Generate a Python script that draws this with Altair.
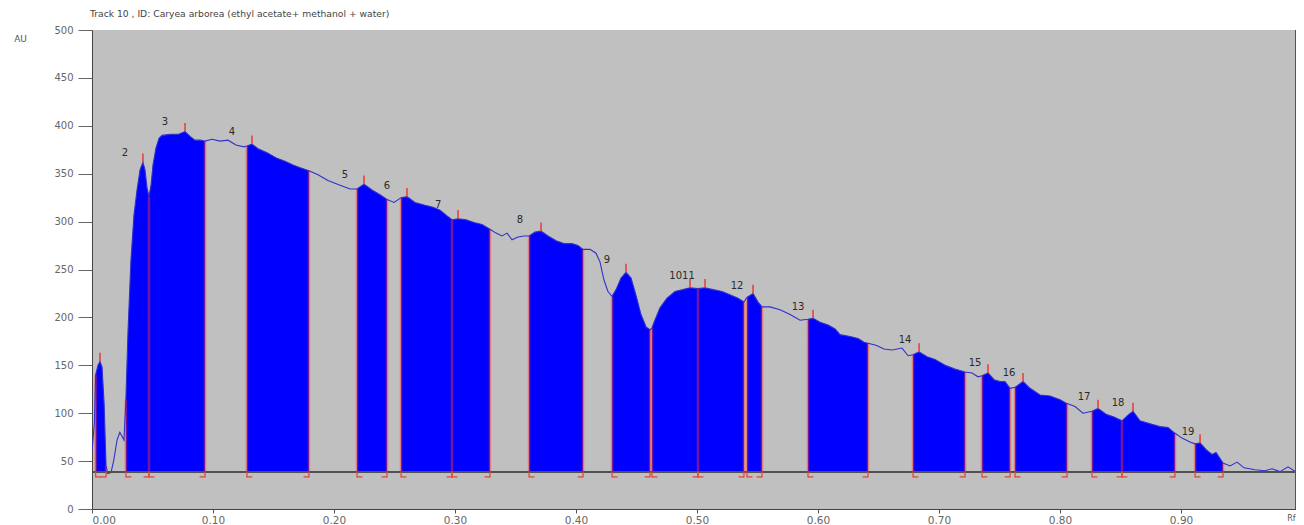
import altair as alt
import pandas as pd

# ---- densitogram curve (Rf, AU) ----
rf = [0.000, 0.002, 0.003, 0.005, 0.0066, 0.0083, 0.0100, 0.0116, 0.013, 0.0157,
      0.018, 0.0207, 0.023, 0.0248, 0.0264, 0.028, 0.0298, 0.0322, 0.0347, 0.0372,
      0.0397, 0.0421, 0.0438, 0.0455, 0.0471, 0.0488, 0.0504, 0.0529, 0.0554, 0.0579,
      0.0645, 0.0711, 0.0769, 0.081, 0.0851, 0.0893, 0.0934, 0.0992, 0.1058, 0.1124,
      0.119, 0.1256, 0.128, 0.1322, 0.1372, 0.1446, 0.1529, 0.1595, 0.1661, 0.1727,
      0.1793, 0.1868, 0.195, 0.205, 0.2132, 0.219, 0.2248, 0.2314, 0.238, 0.2438,
      0.2496, 0.2554, 0.2603, 0.2669, 0.2752, 0.2818, 0.2876, 0.2934, 0.2975, 0.3025,
      0.3091, 0.3157, 0.3223, 0.3289, 0.3339, 0.3388, 0.343, 0.3471, 0.3521, 0.357,
      0.3612, 0.3661, 0.3711, 0.3769, 0.3835, 0.3901, 0.3967, 0.4017, 0.4058, 0.4116,
      0.4165, 0.4198, 0.4231, 0.4264, 0.4298, 0.4331, 0.4372, 0.4413, 0.4455, 0.4496,
      0.4537, 0.4579, 0.4612, 0.4628, 0.4645, 0.4694, 0.4752, 0.4818, 0.4884, 0.4942,
      0.5008, 0.5066, 0.5132, 0.5207, 0.5281, 0.5339, 0.5388, 0.5413, 0.5463, 0.5504,
      0.5537, 0.5603, 0.5686, 0.5769, 0.5851, 0.5917, 0.5959, 0.6017, 0.6083, 0.6141,
      0.6182, 0.6264, 0.6331, 0.638, 0.6413, 0.6479, 0.6545, 0.6612, 0.6694, 0.6744,
      0.6785, 0.6835, 0.6901, 0.6967, 0.705, 0.7132, 0.7215, 0.7273, 0.7322, 0.7355,
      0.7405, 0.7455, 0.7504, 0.7545, 0.7587, 0.7628, 0.7694, 0.7752, 0.7835, 0.7917,
      0.8, 0.8058, 0.8124, 0.819, 0.8264, 0.8314, 0.838, 0.8446, 0.8512, 0.8562,
      0.8603, 0.8661, 0.8744, 0.8826, 0.8893, 0.895, 0.9008, 0.9074, 0.9116, 0.9157,
      0.9207, 0.9256, 0.9289, 0.9347, 0.9405, 0.9463, 0.9521, 0.9612, 0.9694, 0.9752,
      0.9818, 0.9884, 0.9934, 0.9983]
au = [60, 90, 140, 150, 154, 148, 110, 45, 37, 38,
      51, 72, 80, 76, 72, 114, 187, 260, 307, 333,
      354, 362, 354, 335, 326, 338, 359, 377, 387, 390,
      391, 391, 394, 389, 385, 385, 384, 386, 384, 385,
      380, 378, 379, 381, 376, 372, 366, 363, 359, 356,
      353, 349, 343, 338, 334, 334, 339, 333, 328, 323,
      320, 325, 326, 320, 317, 315, 312, 306, 302, 303,
      302, 299, 297, 292, 288, 285, 288, 281, 284, 285,
      285, 289, 290, 285, 280, 277, 277, 275, 271, 271,
      267, 258, 239, 227, 222, 229, 241, 247, 241, 223,
      203, 190, 187, 189, 195, 210, 220, 227, 229, 231,
      230, 231, 229, 227, 223, 220, 216, 221, 225, 216,
      211, 211, 208, 203, 197, 198, 199, 195, 192, 188,
      182, 180, 178, 174, 173, 171, 167, 166, 168, 160,
      161, 164, 159, 156, 150, 146, 143, 142, 138, 139,
      142, 135, 133, 133, 126, 127, 133, 126, 119, 118,
      114, 110, 107, 100, 102, 105, 99, 96, 92, 98,
      102, 92, 89, 86, 85, 79, 74, 70, 68, 69,
      62, 57, 59, 48, 45, 49, 43, 41, 40, 42,
      39, 44, 40, 39]

baseline_au = 39

# ---- integrated peaks ----
peak_start = [0.003, 0.028, 0.0471, 0.128, 0.219, 0.2554, 0.2975, 0.3612, 0.4298, 0.4628,
              0.5008, 0.5413, 0.5917, 0.6785, 0.7355, 0.7628, 0.8264, 0.8512, 0.9116]
peak_end = [0.0116, 0.0471, 0.0934, 0.1793, 0.2438, 0.2975, 0.3289, 0.4058, 0.4612, 0.5008,
            0.5388, 0.5537, 0.6413, 0.7215, 0.7587, 0.8058, 0.8512, 0.895, 0.9347]
peak_max = [0.0066, 0.0421, 0.0769, 0.1322, 0.2248, 0.2603, 0.3025, 0.3711, 0.4413, 0.4942,
            0.5066, 0.5463, 0.5959, 0.6835, 0.7405, 0.7694, 0.8314, 0.8603, 0.9157]

# ---- peak number labels ----
label_text = ["2", "3", "4", "5", "6", "7", "8", "9", "1011", "12", "13", "14",
              "15", "16", "17", "18", "19"]
label_rf = [0.0273, 0.0603, 0.1157, 0.2091, 0.2438, 0.2860, 0.3537, 0.4256, 0.4876,
            0.5331, 0.5835, 0.6719, 0.7298, 0.7579, 0.8198, 0.8479, 0.9058]
label_au = [372, 404, 394, 349, 337, 317, 302, 260, 243, 233, 211, 176, 152, 142,
            117, 111, 80]

x_ticks = [0.0, 0.1, 0.2, 0.3, 0.4, 0.5, 0.6, 0.7, 0.8, 0.9]
y_ticks = [0, 50, 100, 150, 200, 250, 300, 350, 400, 450, 500]

title_text = "Track  10 , ID: Caryea arborea (ethyl acetate+ methanol + water)"

# ---------------------------------------------------------------
curve = pd.DataFrame({"rf": rf, "au": au})


def au_at(v):
    i = (curve["rf"] - v).abs().idxmin()
    return float(curve.loc[i, "au"])


fill_rows = []
for k, (s, e) in enumerate(zip(peak_start, peak_end)):
    sel = curve[(curve["rf"] >= s - 1e-9) & (curve["rf"] <= e + 1e-9)]
    for r, a in zip(sel["rf"], sel["au"]):
        fill_rows.append({"rf": r, "au": a, "peak": k + 1, "base": baseline_au})
fills = pd.DataFrame(fill_rows)

bounds = sorted(set(peak_start) | set(peak_end))
bound_df = pd.DataFrame({"rf": bounds,
                         "top": [au_at(b) for b in bounds],
                         "base": [baseline_au] * len(bounds)})

tick_df = pd.DataFrame({"rf": peak_max,
                        "au": [au_at(p) for p in peak_max]})
tick_df["tip"] = tick_df["au"] + 9

brk_v = pd.DataFrame({"rf": peak_start + peak_end})
brk_v["y1"] = baseline_au
brk_v["y2"] = baseline_au - 6
brk_h = pd.DataFrame({"x1": peak_start + [e - 0.0045 for e in peak_end],
                      "x2": [s + 0.0045 for s in peak_start] + peak_end})
brk_h["y"] = baseline_au - 5.5

labels = pd.DataFrame({"rf": label_rf, "au": label_au, "t": label_text})

W, H = 1204, 479
FONT = "DejaVu Sans"

xscale = alt.Scale(domain=[0, 0.995], nice=False, zero=False)
yscale = alt.Scale(domain=[0, 500], nice=False)

xaxis = alt.Axis(values=x_ticks, format=".2f", title="Rf", grid=False,
                 tickSize=4, labelPadding=2, labelFont=FONT, labelFontSize=10.5,
                 labelColor="#666666", tickColor="#555555", domainColor="#444444",
                 titleFont=FONT, titleFontSize=8, titleFontWeight="normal",
                 titleColor="#555555", titleX=W - 5, titleY=9,
                 titleAlign="center", titleBaseline="middle")
yaxis = alt.Axis(values=y_ticks, format="d", title="AU", grid=False,
                 tickSize=14, labelPadding=5, labelFont=FONT, labelFontSize=10,
                 labelColor="#666666", tickColor="#666666", domainColor="#444444",
                 titleFont=FONT, titleFontSize=9, titleFontWeight="normal",
                 titleColor="#555555", titleAngle=0, titleX=-72, titleY=8,
                 titleAlign="center", titleBaseline="middle")

X = alt.X("rf:Q", scale=xscale, axis=xaxis)
Y = alt.Y("au:Q", scale=yscale, axis=yaxis)

area = alt.Chart(fills).mark_area(color="#0000ff", clip=True, interpolate="linear").encode(
    x=X, y=Y, y2="base:Q", detail="peak:N")

line = alt.Chart(curve).mark_line(color="#3030cc", strokeWidth=1.1, clip=True).encode(
    x="rf:Q", y="au:Q")

brules = alt.Chart(bound_df).mark_rule(color="#ff3030", opacity=0.45, strokeWidth=2.5).encode(
    x="rf:Q", y="base:Q", y2="top:Q")

ticks = alt.Chart(tick_df).mark_rule(color="#e83a3a", strokeWidth=1.5).encode(
    x="rf:Q", y="au:Q", y2="tip:Q")

base_rule = alt.Chart(curve).mark_rule(color="#505050", strokeWidth=1).encode(
    y=alt.datum(baseline_au))

bv = alt.Chart(brk_v).mark_rule(color="#e04a3a", strokeWidth=1.3).encode(
    x="rf:Q", y="y1:Q", y2="y2:Q")
bh = alt.Chart(brk_h).mark_rule(color="#e04a3a", strokeWidth=1.3).encode(
    x="x1:Q", x2="x2:Q", y="y:Q")

txt = alt.Chart(labels).mark_text(font=FONT, fontSize=10, color="#2a2a2a").encode(
    x="rf:Q", y="au:Q", text="t:N")

right_edge = alt.Chart(curve).mark_rule(color="#555555", strokeWidth=1).encode(
    x=alt.value(W), y=alt.value(0), y2=alt.value(H))

chart = alt.layer(area, brules, line, ticks, base_rule, bv, bh, txt, right_edge).properties(
    width=W, height=H,
    title=alt.TitleParams(text=title_text, anchor="start", frame="group", font=FONT,
                          fontSize=9.2, fontWeight="normal", color="#444444",
                          offset=6, dx=-2),
    padding={"left": 84, "top": 22, "right": 0, "bottom": 16},
    autosize=alt.AutoSizeParams(type="none"),
).configure(background="white").configure_view(fill="#c0c0c0", strokeWidth=0)

chart.save("out.html", embed_options={"renderer": "svg", "actions": False})
